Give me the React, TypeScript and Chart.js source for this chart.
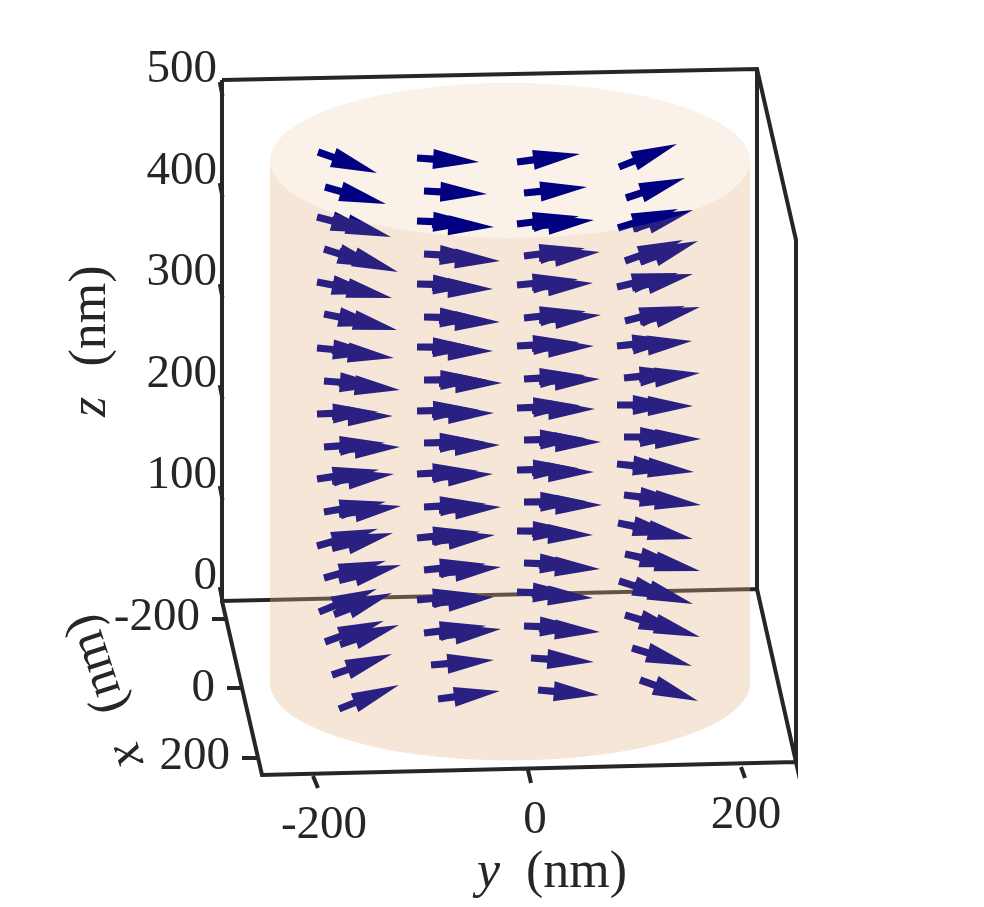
import React, { useEffect, useRef } from "react";
import { Chart, registerables } from "chart.js";

Chart.register(...registerables);

// Axis values
const zTicks = [0, 100, 200, 300, 400, 500];
const yTicks = [-200, 0, 200];
const yTickLabels = ["-200", "0", "200"];
const yTickLabelV = [-226, -221, -216];
const xTickLabels = ["-200", "0", "200"];
const xTickLabelU = [-310, -295, -280];
const xTickLabelV = [-18, -89, -157];

// Box edges and tick marks, in the projected (u, v) plane; null breaks the line
const edgeU = [
  -288, 247, 286, 286, 247, 247, null,
  -288, -288, 247, null,
  -288, -248, 286, null,
  -298, -283, null, -283, -267, null, -268, -252, null,
  -197, -192, null, 18, 21, null, 231, 235, null,
  -290.2, -287.5, null, -290.2, -287.5, null, -290.2, -287.5, null,
  -290.2, -287.5, null, -290.2, -287.5, null, -290.2, -287.5,
];
const edgeV = [
  520, 531, 360, -162, 11, 531, null,
  520, -1, 11, null,
  -1, -175, -162, null,
  -19, -19, null, -88, -88, null, -158, -158, null,
  -176, -188, null, -170, -183, null, -167, -178, null,
  518, 504, null, 417, 403, null, 316, 302, null,
  215, 201, null, 114, 100, null, 13, -1,
];

// Cylinder in the projected plane
const cylinderCenterU = 0;
const cylinderRadiusU = 240;
const cylinderRadiusV = 77.5;
const cylinderTopV = 439.5;
const cylinderBottomV = -83;

// Arrows, one row per line of glyphs, four columns across
const tailU = [
  [-192, -93, 7, 109], [-185, -86, 14, 116], [-193, -93, 7, 108], [-186, -86, 14, 115],
  [-193, -93, 7, 107], [-186, -86, 14, 115], [-193, -93, 7, 107], [-186, -86, 14, 114],
  [-193, -93, 7, 107], [-186, -86, 14, 114], [-193, -93, 7, 107], [-186, -86, 14, 114],
  [-193, -93, 7, 108], [-186, -86, 14, 115], [-191, -93, 7, 109], [-185, -86, 14, 115],
  [-178, -79, 21, 122], [-171, -72, 28, 130],
];
const tailV = [
  [448, 442, 438, 433], [413, 409, 407, 402], [383, 379, 376, 372], [351, 346, 344, 339],
  [318, 316, 315, 313], [286, 283, 282, 279], [252, 253, 254, 254], [219, 220, 221, 222],
  [186, 189, 192, 195], [153, 157, 160, 163], [121, 126, 130, 136], [88, 93, 98, 105],
  [54, 62, 69, 77], [22, 30, 37, 46], [-12, 0, 8, 19], [-42, -33, -26, -15],
  [-75, -65, -58, -48], [-109, -99, -90, -80],
];
const tipU = [
  [-133, -31, 70, 167], [-124, -23, 77, 175], [-119, -16, 84, 183], [-112, -10, 90, 188],
  [-118, -17, 83, 183], [-113, -10, 91, 190], [-116, -17, 84, 182], [-110, -8, 90, 190],
  [-117, -16, 85, 183], [-110, -10, 91, 191], [-116, -17, 84, 184], [-109, -9, 92, 191],
  [-117, -15, 83, 183], [-109, -9, 90, 190], [-118, -16, 83, 183], [-111, -9, 90, 190],
  [-118, -16, 84, 182], [-111, -10, 89, 188],
];
const tipV = [
  [427, 438, 446, 456], [396, 406, 413, 422], [363, 373, 380, 390], [328, 339, 348, 359],
  [302, 311, 317, 326], [270, 278, 285, 293], [242, 249, 254, 259], [210, 217, 221, 227],
  [184, 187, 191, 194], [153, 155, 158, 161], [126, 126, 128, 128], [94, 93, 95, 95],
  [67, 65, 65, 61], [35, 33, 31, 29], [7, 3, 2, -4], [-25, -29, -32, -37],
  [-54, -60, -62, -66], [-85, -91, -95, -101],
];
// Rows where two arrows from different layers overlap, and how far apart the layers lie
const overlappedRows = [2, 3, 4, 5, 6, 7, 8, 9, 10, 11, 12, 13, 14, 15];
const layerShiftU = 15;
const layerTailShiftV = [2.5, 3.5, 2.5];
const layerTipShiftV = [4.3, 3.3, 3.7];
const lastColumnShiftV = [1, 1, 1, 1, 1, 1, 1, 2, 2, 3, 4, 4, 4, 4];

const ink = "#262626";
const navy = "#000080";
const serif = '"Liberation Serif"';
const wallTint = "rgba(225, 178, 135, 0.18)";

type Seg = { x: number; y: number; tipU: number; tipV: number };

function buildArrows(): Seg[] {
  const out: Seg[] = [];
  tailU.forEach((row, r) => {
    row.forEach((tu, c) => {
      const tv = tailV[r][c];
      const pu = tipU[r][c];
      const pv = tipV[r][c];
      const o = overlappedRows.indexOf(r);
      if (o >= 0) {
        const tailShift = c === 3 ? lastColumnShiftV[o] : layerTailShiftV[c];
        const tipShift = c === 3 ? lastColumnShiftV[o] : layerTipShiftV[c];
        out.push({ x: tu + layerShiftU, y: tv - tailShift, tipU: pu, tipV: pv });
        out.push({ x: tu, y: tv, tipU: pu - layerShiftU, tipV: pv + tipShift });
      } else {
        out.push({ x: tu, y: tv, tipU: pu, tipV: pv });
      }
    });
  });
  return out;
}

function drawArrow(ctx: CanvasRenderingContext2D, x0: number, y0: number, x1: number, y1: number) {
  const dx = x1 - x0;
  const dy = y1 - y0;
  const len = Math.hypot(dx, dy) || 1;
  const nx = -dy / len;
  const ny = dx / len;
  const bx = x0 + dx * 0.26;
  const by = y0 + dy * 0.26;
  const s = 3.6;
  const h = 10;
  ctx.beginPath();
  ctx.moveTo(x0 + nx * s, y0 + ny * s);
  ctx.lineTo(bx + nx * s, by + ny * s);
  ctx.lineTo(bx + nx * h, by + ny * h);
  ctx.lineTo(x1, y1);
  ctx.lineTo(bx - nx * h, by - ny * h);
  ctx.lineTo(bx - nx * s, by - ny * s);
  ctx.lineTo(x0 - nx * s, y0 - ny * s);
  ctx.closePath();
  ctx.fill();
}

const quiverPlugin = {
  id: "quiver",
  afterDatasetDraw(chart: any, args: any) {
    const ctx: CanvasRenderingContext2D = chart.ctx;
    const u = chart.scales.u;
    const v = chart.scales.v;
    const cx = u.getPixelForValue(cylinderCenterU);
    const rx = u.getPixelForValue(cylinderCenterU + cylinderRadiusU) - cx;
    const top = v.getPixelForValue(cylinderTopV);
    const bottom = v.getPixelForValue(cylinderBottomV);
    const ry = v.getPixelForValue(0) - v.getPixelForValue(cylinderRadiusV);
    if (args.index === 0) {
      ctx.save();
      ctx.fillStyle = wallTint;
      ctx.beginPath();
      ctx.ellipse(cx, top, rx, ry, 0, Math.PI, 0, false);
      ctx.lineTo(cx + rx, bottom);
      ctx.ellipse(cx, bottom, rx, ry, 0, 0, Math.PI, false);
      ctx.closePath();
      ctx.fill();
      ctx.restore();
    }
    if (args.index === 1) {
      ctx.save();
      ctx.fillStyle = navy;
      for (const p of chart.data.datasets[1].data as Seg[]) {
        drawArrow(
          ctx,
          u.getPixelForValue(p.x),
          v.getPixelForValue(p.y),
          u.getPixelForValue(p.tipU),
          v.getPixelForValue(p.tipV),
        );
      }
      ctx.fillStyle = wallTint;
      ctx.beginPath();
      ctx.ellipse(cx, top, rx, ry, 0, Math.PI, 0, true);
      ctx.lineTo(cx + rx, bottom);
      ctx.ellipse(cx, bottom, rx, ry, 0, 0, Math.PI, false);
      ctx.closePath();
      ctx.fill();
      ctx.restore();
    }
  },
  afterDraw(chart: any) {
    const ctx: CanvasRenderingContext2D = chart.ctx;
    const u = chart.scales.u;
    const v = chart.scales.v;
    const yNm = chart.scales.yNm;
    ctx.save();
    ctx.fillStyle = ink;
    ctx.textBaseline = "middle";
    ctx.font = `47px ${serif}`;
    ctx.textAlign = "center";
    yTicks.forEach((t, i) => {
      ctx.fillText(yTickLabels[i], yNm.getPixelForValue(t), v.getPixelForValue(yTickLabelV[i]));
    });
    ctx.textAlign = "right";
    xTickLabels.forEach((t, i) => {
      ctx.fillText(t, u.getPixelForValue(xTickLabelU[i]), v.getPixelForValue(xTickLabelV[i]));
    });

    ctx.textBaseline = "alphabetic";
    // y (nm)
    ctx.textAlign = "left";
    ctx.font = `italic 52px ${serif}`;
    ctx.fillText("y", u.getPixelForValue(-33), v.getPixelForValue(-287));
    ctx.font = `52px ${serif}`;
    ctx.fillText("(nm)", u.getPixelForValue(16), v.getPixelForValue(-287));

    // z (nm)
    ctx.save();
    ctx.translate(u.getPixelForValue(-405), v.getPixelForValue(284));
    ctx.rotate(-Math.PI / 2);
    ctx.textAlign = "center";
    ctx.font = `52px ${serif}`;
    ctx.fillText("(nm)", 0, 0);
    ctx.font = `italic 52px ${serif}`;
    ctx.fillText("z", -91, 0);
    ctx.restore();

    // x (nm)
    ctx.save();
    ctx.translate(u.getPixelForValue(-413), v.getPixelForValue(-64));
    ctx.rotate((-108 * Math.PI) / 180);
    ctx.textAlign = "center";
    ctx.font = `52px ${serif}`;
    ctx.fillText("(nm)", 0, 14);
    ctx.font = `italic 52px ${serif}`;
    ctx.fillText("x", -96, 14);
    ctx.restore();
    ctx.restore();
  },
};

export default function App() {
  const ref = useRef<HTMLCanvasElement | null>(null);
  useEffect(() => {
    if (!ref.current) return;
    const edges = edgeU.map((x, i) => ({ x, y: edgeV[i] }));
    const chart = new Chart(ref.current, {
      type: "scatter",
      plugins: [quiverPlugin],
      data: {
        datasets: [
          {
            label: "box",
            data: edges as any,
            xAxisID: "u",
            yAxisID: "v",
            showLine: true,
            spanGaps: false,
            borderColor: ink,
            borderWidth: 4,
            pointRadius: 0,
            clip: false as any,
            order: 2,
          },
          {
            label: "magnetisation",
            data: buildArrows() as any,
            xAxisID: "u",
            yAxisID: "v",
            showLine: false,
            pointRadius: 0,
            clip: false as any,
            order: 1,
          },
        ],
      },
      options: {
        responsive: false,
        animation: false,
        events: [],
        layout: { padding: 0 },
        plugins: { legend: { display: false }, tooltip: { enabled: false }, title: { display: false } },
        scales: {
          u: { type: "linear", axis: "x", position: "bottom", display: false, min: -288, max: 474 },
          v: { type: "linear", axis: "y", position: "left", display: false, min: -307, max: 600 },
          yNm: { type: "linear", axis: "x", position: "bottom", display: false, min: -296.7, max: 425.6 },
          zNm: {
            type: "linear",
            axis: "y",
            position: "left",
            min: -325.5,
            max: 569,
            afterFit(scale: any) {
              scale.width = 222;
              scale.paddingTop = 0;
              scale.paddingBottom = 0;
            },
            afterBuildTicks(scale: any) {
              scale.ticks = zTicks.map((value) => ({ value }));
            },
            grid: { display: false, drawTicks: false },
            border: { display: false },
            ticks: {
              autoSkip: false,
              maxRotation: 0,
              padding: 5,
              color: ink,
              font: { family: "Liberation Serif", size: 47 },
            },
          },
        } as any,
      },
    });
    return () => chart.destroy();
  }, []);
  return (
    <canvas
      ref={ref}
      width={984}
      height={907}
      style={{ position: "absolute", left: 0, top: 0, width: 984, height: 907, display: "block" }}
    />
  );
}
